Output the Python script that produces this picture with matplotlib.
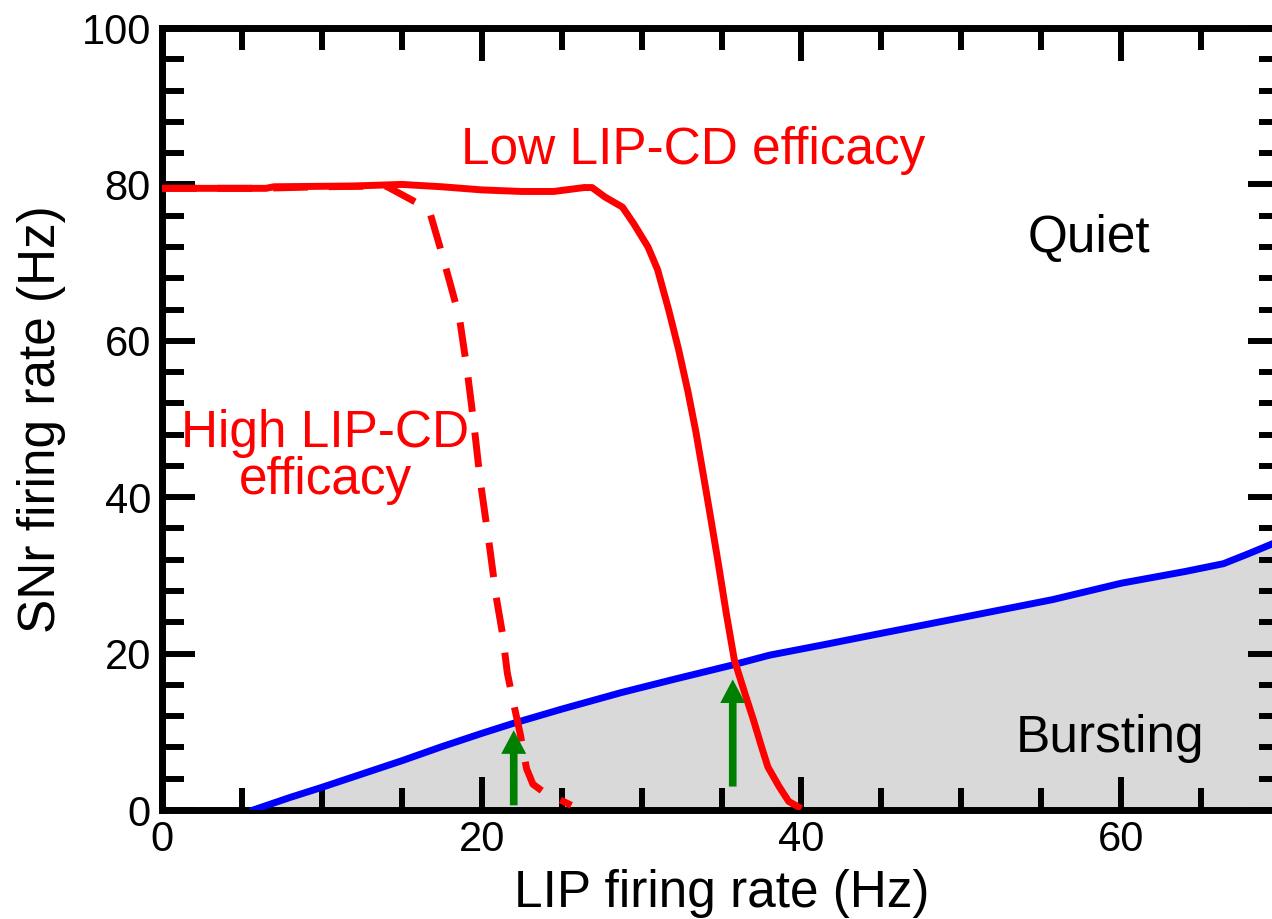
import numpy as np
import matplotlib.pyplot as plt
from matplotlib.ticker import MultipleLocator

plt.rcParams['font.family'] = ['Liberation Sans', 'DejaVu Sans']

# burst threshold: SNr rate below which the SC is bursting
thr_x = [5.7, 8, 10, 12.5, 15, 17.5, 20, 22, 25, 28.7, 32, 35.6, 38, 41.3,
         45, 50, 55.7, 60, 64, 66.4, 68, 70]
thr_y = [0, 1.6, 2.9, 4.6, 6.3, 8.1, 9.8, 11.1, 12.9, 15.0, 16.7, 18.5, 19.8,
         21.1, 22.6, 24.6, 26.9, 29.0, 30.5, 31.5, 32.8, 34.5]

# SNr response, low LIP-CD efficacy
low_x = [0, 6.5, 7, 12, 15, 17.5, 20, 22.5, 24.5, 26.4, 26.9, 27.7, 28.8, 29.5,
         30.4, 31.0, 31.7, 32.3, 32.9, 33.4, 34.0, 34.3, 34.8, 35.3, 35.8, 36.4,
         37.0, 37.5, 37.9, 38.6, 39.2, 39.8]
low_y = [79.5, 79.5, 79.7, 79.8, 80.0, 79.7, 79.3, 79.1, 79.1, 79.6, 79.6, 78.4,
         77.1, 75.0, 72.0, 69.1, 63.9, 59.0, 53.5, 48.3, 41.2, 37.6, 31.5, 25.1,
         19.2, 15.3, 11.5, 8.1, 5.5, 3.0, 1.1, 0.4]

# SNr response, high LIP-CD efficacy
high_x = [0, 6, 10, 14, 15.9, 16.8, 17.4, 18.0, 18.6, 19.1, 19.5, 19.9, 20.5,
          20.9, 21.3, 21.6, 22.1, 22.4, 22.8, 23.2, 23.8, 25.6]
high_y = [79.5, 79.5, 79.7, 79.8, 77.7, 76.1, 71.9, 67.5, 63.0, 56.0, 49.5, 42.2,
          33.5, 27.3, 22.5, 17.5, 12.6, 9.8, 5.3, 3.3, 2.4, 0.6]

# onset of bursting for each efficacy
arrow_x = [22.0, 35.7]
arrow_y0 = [0.6, 3.0]
arrow_y1 = [10.2, 16.7]

fig = plt.figure(figsize=(12.72, 9.19), dpi=100)
ax = fig.add_axes([0.1274, 0.1186, 0.8797, 0.8509])

ax.fill_between(thr_x, 0, thr_y, color='#d9d9d9', lw=0, zorder=1)
ax.plot(thr_x, thr_y, color='#0000ff', lw=5, zorder=3)
ax.plot(high_x, high_y, color='#ff0000', lw=5, dashes=(5, 3), zorder=3)
ax.plot(low_x, low_y, color='#ff0000', lw=5, zorder=4)

for x, y0, y1 in zip(arrow_x, arrow_y0, arrow_y1):
    ax.annotate('', xy=(x, y1), xytext=(x, y0),
                arrowprops=dict(width=5.5, headwidth=18, headlength=17,
                                facecolor='#008000', edgecolor='none', shrink=0),
                zorder=5)

ax.text(33.2, 84.4, 'Low LIP-CD efficacy', color='#ff0000', fontsize=37,
        ha='center', va='center')
ax.text(10.2, 45.1, 'High LIP-CD\nefficacy', color='#ff0000', fontsize=37,
        ha='center', va='center', multialignment='center', linespacing=0.95)
ax.text(58.0, 73.1, 'Quiet', color='black', fontsize=37, ha='center', va='center')
ax.text(59.3, 9.2, 'Bursting', color='black', fontsize=37, ha='center', va='center')

ax.set_xlim(0, 70)
ax.set_ylim(0, 100)
ax.xaxis.set_major_locator(MultipleLocator(20))
ax.xaxis.set_minor_locator(MultipleLocator(5))
ax.yaxis.set_major_locator(MultipleLocator(20))
ax.yaxis.set_minor_locator(MultipleLocator(4))
ax.tick_params(which='both', direction='in', top=True, right=True, width=4.3,
               labelsize=30, colors='black')
ax.tick_params(which='major', length=24)
ax.tick_params(which='minor', length=16)
ax.tick_params(axis='x', which='major', pad=7)
ax.tick_params(axis='y', which='major', pad=8)
for s in ax.spines.values():
    s.set_linewidth(5)

ax.set_xlabel('LIP firing rate (Hz)', fontsize=37, labelpad=7)
ax.set_ylabel('SNr firing rate (Hz)', fontsize=37, labelpad=11)

fig.savefig('out.png', dpi=100)
